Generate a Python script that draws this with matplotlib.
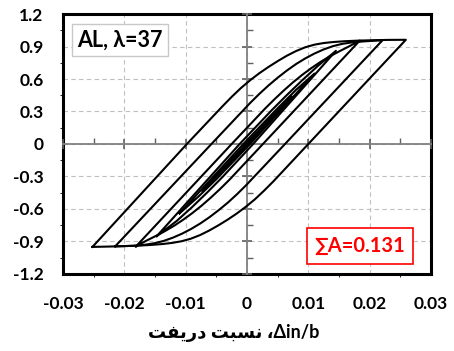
import numpy as np
import matplotlib
matplotlib.use("Agg")
import matplotlib.pyplot as plt
from matplotlib.ticker import MultipleLocator

# hysteresis loops (drift ratio, normalised force)
# each loop: negative peak -> upper branch -> positive peak -> lower branch -> negative peak
loop1_x = [-0.0252, -0.0098, -0.004, -0.0025, -0.001, 0.0005, 0.002, 0.0035, 0.005, 0.0065, 0.008, 0.0095,
           0.011, 0.0125, 0.014, 0.016, 0.018, 0.0205, 0.023, 0.0259,
           0.0100, 0.0043, 0.0028, 0.0013, -0.0002, -0.0017, -0.0032, -0.0047, -0.0062, -0.0077, -0.0092,
           -0.0107, -0.0122, -0.0137, -0.0157, -0.0177, -0.0202, -0.0227, -0.0252]
loop1_y = [-0.95, 0.0, 0.348, 0.435, 0.516, 0.588, 0.653, 0.711, 0.765, 0.815, 0.858, 0.893,
           0.917, 0.932, 0.941, 0.949, 0.954, 0.958, 0.961, 0.962,
           0.0, -0.345, -0.43, -0.51, -0.58, -0.643, -0.70, -0.752, -0.80, -0.842, -0.875,
           -0.898, -0.913, -0.923, -0.932, -0.938, -0.943, -0.947, -0.95]

loop2_x = [-0.0215, -0.0058, 0.0005, 0.002, 0.0035, 0.005, 0.0065, 0.008, 0.0095, 0.011, 0.0125, 0.014,
           0.0155, 0.017, 0.019, 0.0221,
           0.0062, -0.0001, -0.0016, -0.0031, -0.0046, -0.0061, -0.0076, -0.0091, -0.0106, -0.0121,
           -0.0136, -0.0151, -0.0166, -0.0186, -0.0215]
loop2_y = [-0.945, 0.0, 0.378, 0.462, 0.54, 0.612, 0.678, 0.738, 0.79, 0.835, 0.873, 0.903,
           0.924, 0.937, 0.947, 0.958,
           0.0, -0.378, -0.462, -0.54, -0.61, -0.675, -0.733, -0.784, -0.828, -0.865,
           -0.895, -0.916, -0.93, -0.94, -0.945]

loop3_x = [-0.0181, -0.0025, 0.003, 0.0045, 0.006, 0.0075, 0.009, 0.0105, 0.012, 0.0135, 0.015, 0.0165, 0.0184,
           0.0026, -0.0029, -0.0044, -0.0059, -0.0074, -0.0089, -0.0104, -0.0119, -0.0134, -0.0149, -0.0164, -0.0181]
loop3_y = [-0.945, 0.0, 0.33, 0.414, 0.494, 0.569, 0.638, 0.701, 0.758, 0.809, 0.854, 0.897, 0.955,
           0.0, -0.332, -0.416, -0.495, -0.569, -0.637, -0.699, -0.755, -0.805, -0.85, -0.892, -0.945]

loop4_x = [-0.0147, -0.0012, 0.004, 0.0065, 0.009, 0.0115, 0.0145,
           0.0010, -0.004, -0.0065, -0.009, -0.0115, -0.0147]
loop4_y = [-0.85, 0.0, 0.31, 0.452, 0.588, 0.718, 0.86,
           0.0, -0.305, -0.448, -0.585, -0.712, -0.85]

loop5_x = [-0.011, -0.0006, 0.005, 0.008, 0.011, 0.0005, -0.005, -0.008, -0.011]
loop5_y = [-0.64, 0.0, 0.33, 0.5, 0.65, 0.0, -0.325, -0.49, -0.64]

loop6_x = [-0.0073, -0.0002, 0.004, 0.0073, 0.0002, -0.004, -0.0073]
loop6_y = [-0.43, 0.0, 0.25, 0.44, 0.0, -0.245, -0.43]

loops = [(loop1_x, loop1_y), (loop2_x, loop2_y), (loop3_x, loop3_y),
         (loop4_x, loop4_y), (loop5_x, loop5_y), (loop6_x, loop6_y)]

x_ticks = [-0.03, -0.02, -0.01, 0, 0.01, 0.02, 0.03]
x_labels = ["-0.03", "-0.02", "-0.01", "0", "0.01", "0.02", "0.03"]
y_ticks = [-1.2, -0.9, -0.6, -0.3, 0, 0.3, 0.6, 0.9, 1.2]
y_labels = ["-1.2", "-0.9", "-0.6", "-0.3", "0", "0.3", "0.6", "0.9", "1.2"]

# visual order presentation forms for the persian part of the label
x_label = "\uFE96\uFED4\uFEF3\uFEAD\uFEA9 \uFE96\uFE92\uFEB4\uFEE7 \u060C\u0394in/b"
case_label = "AL, \u03bb=37"
area_label = "\u2211A=0.131"

fonts = ["Lato", "DejaVu Sans"]

fig = plt.figure(figsize=(4.54, 3.51), dpi=100)
ax = fig.add_axes([0.1388, 0.2194, 0.8105, 0.7407])
ax.set_xlim(-0.03, 0.03)
ax.set_ylim(-1.2, 1.2)
ax.set_xticks(x_ticks)
ax.set_xticklabels(x_labels)
ax.set_yticks(y_ticks)
ax.set_yticklabels(y_labels)
ax.tick_params(length=0)
ax.tick_params(axis="x", pad=16)
ax.tick_params(axis="y", pad=14)
for lab in ax.get_xticklabels() + ax.get_yticklabels():
    lab.set_family(fonts)
    lab.set_fontweight("bold")
    lab.set_fontsize(12.5)
ax.grid(True, linestyle=(0, (4, 3)), color="#c0c0c0", linewidth=0.8)
ax.set_axisbelow(True)
for s in ax.spines.values():
    s.set_linewidth(2.2)
    s.set_color("black")

# overlay axes: axis lines crossing at zero, excel style
ax2 = fig.add_axes(ax.get_position(), sharex=ax, sharey=ax)
ax2.patch.set_visible(False)
ax2.spines["left"].set_position(("data", 0))
ax2.spines["bottom"].set_position(("data", 0))
ax2.spines["top"].set_visible(False)
ax2.spines["right"].set_visible(False)
for s in ("left", "bottom"):
    ax2.spines[s].set_color("#808080")
    ax2.spines[s].set_linewidth(1.3)
ax2.xaxis.set_minor_locator(MultipleLocator(0.005))
ax2.yaxis.set_minor_locator(MultipleLocator(0.15))
ax2.tick_params(which="major", direction="inout", length=7, width=1.2, color="#606060",
                labelbottom=False, labelleft=False)
ax2.tick_params(which="minor", direction="in", length=4, width=1.0, color="#606060")
ax2.grid(False)

for lx, ly in loops:
    ax2.plot(lx, ly, color="black", linewidth=1.5, zorder=3, solid_joinstyle="round")

ax2.text(0.155, 0.9, case_label, transform=ax2.transAxes, ha="center", va="center",
         fontsize=15.5, fontweight="bold", family=fonts, zorder=5,
         bbox=dict(boxstyle="square,pad=0.25", facecolor="white", edgecolor="#c8c8c8", linewidth=1.0))
ax2.text(0.807, 0.108, area_label, transform=ax2.transAxes, ha="center", va="center",
         fontsize=14.5, fontweight="bold", family=fonts, color="#ff0000", zorder=5,
         bbox=dict(boxstyle="square,pad=0.4", facecolor="white", edgecolor="#ff0000", linewidth=1.2))

fig.text(234 / 454, 1 - 333 / 351, x_label, ha="center", va="center",
         fontsize=13, fontweight="bold", family=fonts)

fig.savefig("out.png", dpi=100)
